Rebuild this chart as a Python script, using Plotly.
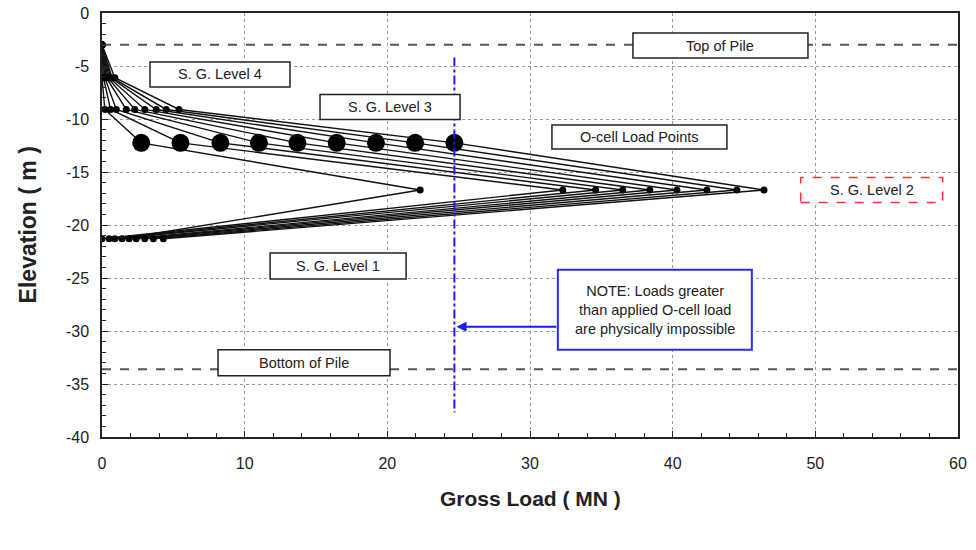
import plotly.graph_objects as go

# Gauge / load-point elevations (m)
elev_top = -3.0
elev_sg4 = -6.1
elev_sg3 = -9.1
elev_ocell = -12.25
elev_sg2 = -16.7
elev_sg1 = -21.3
elev_bottom = -33.6

# Gross load (MN) at each level, one entry per O-cell load step
load_sg4 = [0.0, 0.1, 0.2, 0.3, 0.4, 0.5, 0.6, 0.7, 0.9]
load_sg3 = [0.2, 0.6, 1.0, 1.7, 2.3, 3.0, 3.8, 4.5, 5.4]
load_ocell = [2.75, 5.5, 8.3, 11.0, 13.7, 16.45, 19.2, 21.95, 24.7]
load_sg2 = [22.3, 32.3, 34.6, 36.5, 38.4, 40.3, 42.4, 44.5, 46.4]
load_sg1 = [1.4, 0.0, 0.5, 0.9, 1.9, 2.4, 3.0, 3.6, 4.3]

max_applied = 24.7

# Axis ticks
x_tickvals = [0, 10, 20, 30, 40, 50, 60]
x_ticktext = ["0", "10", "20", "30", "40", "50", "60"]
y_tickvals = [0, -5, -10, -15, -20, -25, -30, -35, -40]
y_ticktext = ["0", "-5", "-10", "-15", "-20", "-25", "-30", "-35", "-40"]

fig = go.Figure()

elevs = [elev_top, elev_sg4, elev_sg3, elev_ocell, elev_sg2, elev_sg1]
sizes = [7, 7, 7, 18, 7, 7]
for i in range(len(load_ocell)):
    xs = [0.0, load_sg4[i], load_sg3[i], load_ocell[i], load_sg2[i], load_sg1[i]]
    fig.add_trace(go.Scatter(
        x=xs, y=elevs, mode="lines+markers",
        line=dict(color="#111111", width=1.4),
        marker=dict(color="black", size=sizes, opacity=1, line=dict(width=0)),
        opacity=1, showlegend=False, hoverinfo="x+y"))

# Top / bottom of pile
for yv in (elev_top, elev_bottom):
    fig.add_trace(go.Scatter(
        x=[0, 60], y=[yv, yv], mode="lines",
        line=dict(color="#555555", width=2, dash="dash"),
        showlegend=False, hoverinfo="skip"))

# Maximum applied O-cell load
fig.add_trace(go.Scatter(
    x=[max_applied, max_applied], y=[-4.2, -37.7], mode="lines",
    line=dict(color="#1a1aff", width=2, dash="dashdot"),
    showlegend=False, hoverinfo="skip"))

font_txt = dict(family="Liberation Sans, Arial, sans-serif", size=14.5, color="#222222")

def box(cx, cy, w, h, text, color="#222222", dash="solid", lw=1.5):
    fig.add_shape(type="rect", xref="x", yref="y",
                  x0=cx - w / 2, x1=cx + w / 2, y0=cy - h / 2, y1=cy + h / 2,
                  line=dict(color=color, width=lw, dash=dash),
                  fillcolor="white", layer="above")
    fig.add_annotation(x=cx, y=cy, xref="x", yref="y", text=text,
                       showarrow=False, font=font_txt, align="center")

px_x = 60 / 856.0   # MN per pixel
px_y = 40 / 424.0   # m per pixel

box(43.35, -3.07, 175 * px_x, 25 * px_y, "Top of Pile")
box(8.27, -5.80, 140 * px_x, 25 * px_y, "S. G. Level 4")
box(20.19, -8.87, 140 * px_x, 25 * px_y, "S. G. Level 3")
box(37.67, -11.70, 175 * px_x, 24 * px_y, "O-cell Load Points")
box(53.95, -16.70, 142 * px_x, 25 * px_y, "S. G. Level 2", color="#ff3040", dash="dash")
box(16.55, -23.87, 136 * px_x, 26 * px_y, "S. G. Level 1")
box(14.16, -33.00, 172 * px_x, 26 * px_y, "Bottom of Pile")
box(38.75, -28.00, 194 * px_x, 80 * px_y,
    "NOTE: Loads greater<br>than applied O-cell load<br>are physically impossible",
    color="#2a2aff", lw=2)

# Arrow from the note to the applied-load line
fig.add_annotation(x=max_applied + 0.15, y=-29.6, ax=31.95, ay=-29.6,
                   xref="x", yref="y", axref="x", ayref="y",
                   text="", showarrow=True, arrowhead=2, arrowsize=1,
                   arrowwidth=2, arrowcolor="#1a1aff")

# Axis titles
fig.add_annotation(xref="paper", yref="paper", x=0.5, y=-0.145, yanchor="middle",
                   text="<b>Gross Load ( MN )</b>", showarrow=False,
                   font=dict(family="Liberation Sans, Arial, sans-serif", size=21, color="#222222"))
fig.add_annotation(xref="paper", yref="paper", x=-0.086, y=0.5, xanchor="center",
                   text="<b>Elevation ( m )</b>", showarrow=False, textangle=-90,
                   font=dict(family="Liberation Sans, Arial, sans-serif", size=23, color="#222222"))

axis_common = dict(
    showline=True, linecolor="#222222", linewidth=1.5, mirror=True,
    showgrid=True, gridcolor="#9a9a9a", griddash="dot", gridwidth=1,
    zeroline=False, ticks="inside", ticklen=6, tickcolor="#222222",
    automargin=False,
    tickfont=dict(family="Liberation Sans, Arial, sans-serif", size=16, color="#222222"),
)

fig.update_xaxes(range=[0, 60], tickmode="array", tickvals=x_tickvals, ticktext=x_ticktext,
                 minor=dict(dtick=2, tick0=0, ticks="inside", ticklen=4, tickcolor="#222222", showgrid=False),
                 ticklabelstandoff=11, **axis_common)
fig.update_yaxes(range=[-40, 0], tickmode="array", tickvals=y_tickvals, ticktext=y_ticktext,
                 minor=dict(dtick=1, tick0=0, ticks="inside", ticklen=4, tickcolor="#222222", showgrid=False),
                 ticklabelstandoff=8, **axis_common)

fig.update_layout(
    width=976, height=550,
    margin=dict(l=102, r=18, t=13, b=113, autoexpand=False),
    paper_bgcolor="white", plot_bgcolor="white",
    showlegend=False,
)

fig.write_html("out.html")
